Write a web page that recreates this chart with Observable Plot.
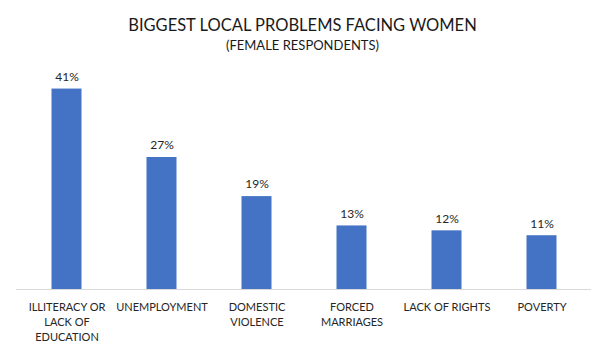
<!DOCTYPE html>
<html>
<head>
<meta charset="utf-8">
<script src="https://cdn.jsdelivr.net/npm/d3@7"></script>
<script src="https://cdn.jsdelivr.net/npm/@observablehq/plot@0.6"></script>
<style>
  html, body { margin: 0; padding: 0; background: #fff; }
  body { width: 605px; height: 353px; overflow: hidden; font-family: Lato, "Open Sans", sans-serif; }
  #head { position: relative; height: 60px; width: 605px; }
  #title { position: absolute; top: 15px; left: 0; width: 605px; text-align: center; font-size: 16.5px; color: #1a1a1a; }
  #subtitle { position: absolute; top: 37px; left: 0; width: 605px; text-align: center; font-size: 13px; color: #1a1a1a; }
  #chart svg { display: block; }
</style>
</head>
<body>
<div id="head">
  <div id="title">BIGGEST LOCAL PROBLEMS FACING WOMEN</div>
  <div id="subtitle">(FEMALE RESPONDENTS)</div>
</div>
<div id="chart"></div>
<script>
const categories = ["ILLITERACY OR\nLACK OF\nEDUCATION", "UNEMPLOYMENT", "DOMESTIC\nVIOLENCE", "FORCED\nMARRIAGES", "LACK OF RIGHTS", "POVERTY"];
const values = [41, 27, 19, 13, 12, 11];
const valueLabels = ["41%", "27%", "19%", "13%", "12%", "11%"];

const data = categories.map((c, i) => ({category: c, value: values[i], label: valueLabels[i]}));

const chart = Plot.plot({
  width: 605,
  height: 293,
  marginLeft: 16,
  marginRight: 14,
  marginTop: 9,
  marginBottom: 64,
  style: {fontFamily: "Lato, 'Open Sans', sans-serif", color: "#262626", background: "#fff"},
  x: {domain: categories, padding: 0, label: null},
  y: {domain: [0, 45], axis: null},
  marks: [
    Plot.barY(data, {x: "category", y: "value", fill: "#4472C4", insetLeft: 32.5, insetRight: 32.5}),
    Plot.ruleY([0], {stroke: "#d9d9d9", strokeWidth: 1}),
    Plot.text(data, {x: "category", y: "value", text: "label", dy: -12, fontSize: 12, fill: "#262626"}),
    Plot.axisX({tickSize: 0, tickPadding: 11, fontSize: 11, lineHeight: 1.36, fill: "#262626", label: null})
  ]
});
document.getElementById("chart").appendChild(chart);
</script>
</body>
</html>
